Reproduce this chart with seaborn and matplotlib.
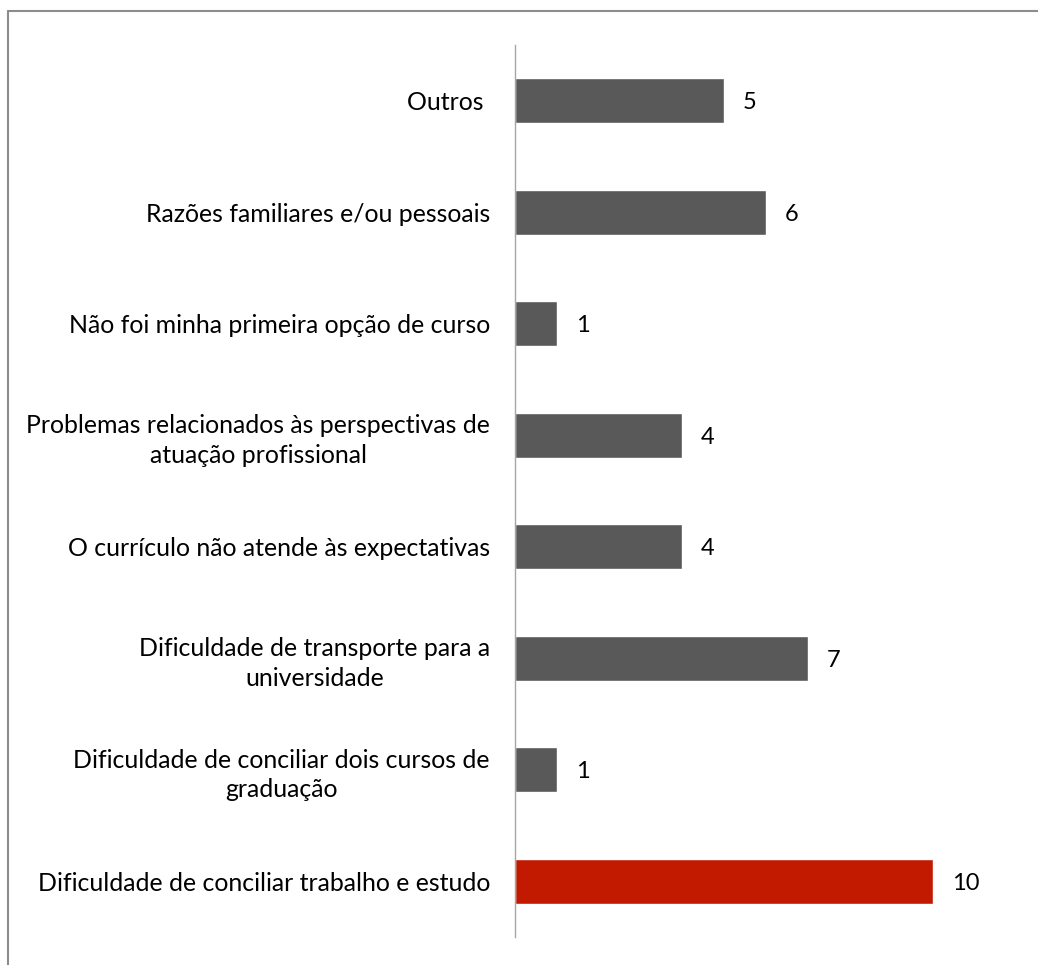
import matplotlib.pyplot as plt
from matplotlib.lines import Line2D
import pandas as pd
import seaborn as sns

# motivos (de cima para baixo) e numero de respostas
motivos = [
    "Outros ",
    "Razões familiares e/ou pessoais",
    "Não foi minha primeira opção de curso",
    "Problemas relacionados às perspectivas de\natuação profissional",
    "O currículo não atende às expectativas",
    "Dificuldade de transporte para a\nuniversidade",
    "Dificuldade de conciliar dois cursos de\ngraduação",
    "Dificuldade de conciliar trabalho e estudo",
]
respostas = [5, 6, 1, 4, 4, 7, 1, 10]
cores = ["#595959"] * 7 + ["#C21A00"]

df = pd.DataFrame({"motivo": motivos, "n": respostas})

sns.set_style("white")
plt.rcParams["font.family"] = ["Lato", "DejaVu Sans"]

fig = plt.figure(figsize=(10.38, 9.65), dpi=100)
ax = fig.add_axes([0.4961, 0.029, 0.4837, 0.9244])

sns.barplot(data=df, y="motivo", x="n", hue="motivo", palette=cores,
            legend=False, width=0.4, orient="h", saturation=1, ax=ax)

for i, v in enumerate(respostas):
    ax.text(v + 0.45, i + 0.02, str(v), va="center", ha="left", fontsize=17, color="#000000")

ax.set_xlim(0, 12)
ax.set_ylim(7.5, -0.5)
ax.set_xlabel("")
ax.set_ylabel("")
ax.set_xticks([])
ax.tick_params(axis="y", length=0, pad=18, labelsize=17.9)
for lab in ax.get_yticklabels():
    lab.set_multialignment("center")
    lab.set_linespacing(1.35)
    lab.set_color("#000000")

for s in ["top", "right", "bottom"]:
    ax.spines[s].set_visible(False)
ax.spines["left"].set_color("#A6A6A6")
ax.spines["left"].set_linewidth(1.0)

# moldura recortada do grafico original
fig.add_artist(Line2D([0.008, 1.0], [0.9886, 0.9886], color="#8C8C8C", lw=1.5))
fig.add_artist(Line2D([0.008, 0.008], [0.0, 0.9886], color="#8C8C8C", lw=1.5))

fig.savefig("out.png", dpi=100)
